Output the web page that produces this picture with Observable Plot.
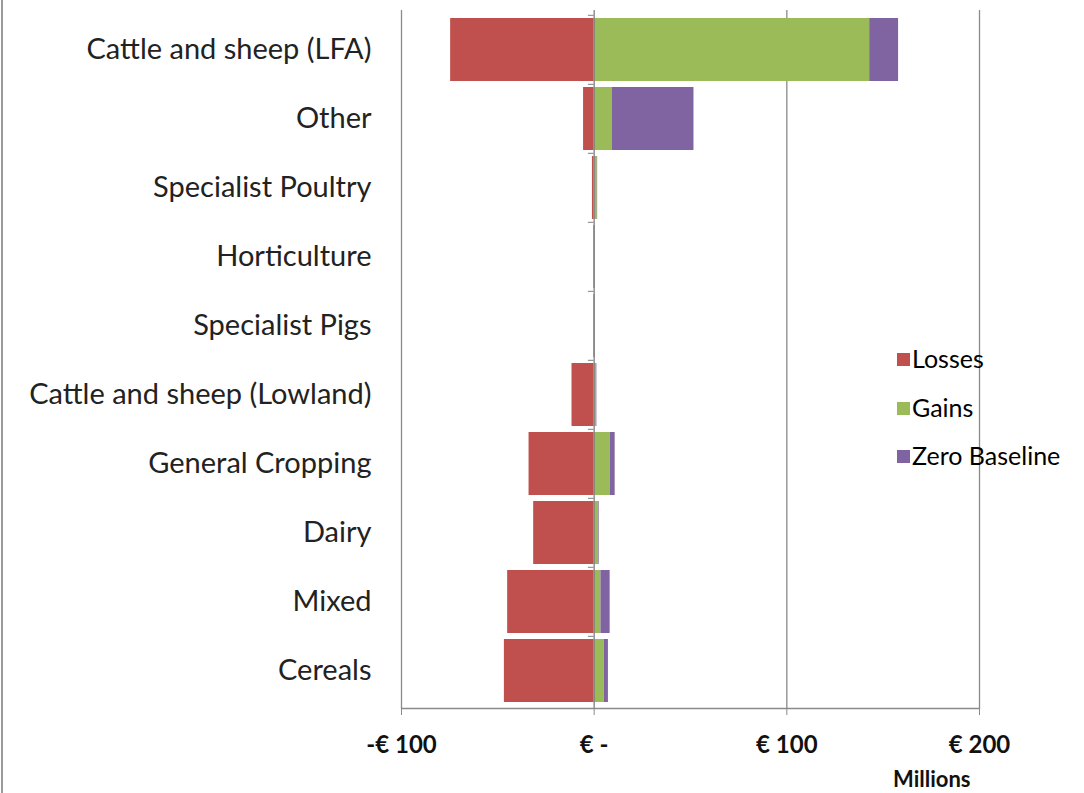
<!DOCTYPE html>
<html>
<head>
<meta charset="utf-8">
<script src="https://cdn.jsdelivr.net/npm/d3@7"></script>
<script src="https://cdn.jsdelivr.net/npm/@observablehq/plot@0.6"></script>
<style>
  html, body { margin: 0; padding: 0; background: #fff; }
  #wrap { position: relative; width: 1084px; height: 793px; overflow: hidden; }
  #wrap::before { content: ""; position: absolute; left: 1px; top: 0; width: 2px; height: 793px; background: #9a9a9a; }
  #legend { position: absolute; left: 897px; top: 343px; font-family: Lato, sans-serif; font-size: 25px; color: #000; }
  #legend .item { display: flex; align-items: center; height: 30px; margin-bottom: 18.5px; }
  #legend .sw { width: 13px; height: 13px; margin-right: 2px; margin-top: 3px; }
</style>
</head>
<body>
<div id="wrap"><div id="legend"></div></div>
<script>
const categories = ["Cattle and sheep (LFA)", "Other", "Specialist Poultry", "Horticulture", "Specialist Pigs",
  "Cattle and sheep (Lowland)", "General Cropping", "Dairy", "Mixed", "Cereals"];
const seriesNames = ["Losses", "Gains", "Zero Baseline"];
const seriesColors = ["#C0504D", "#9BBB59", "#8064A2"];
const losses = [-74.5, -5.5, -0.9, -0.3, -0.3, -11.5, -33.8, -31.4, -44.9, -46.6];
const gains = [143.0, 9.3, 1.6, 0.4, 0.4, 1.2, 8.3, 2.4, 3.5, 5.2];
const zeroBaseline = [15.0, 42.5, 0.2, 0.2, 0.2, 0.2, 2.6, 0.3, 4.8, 2.2];
const xTicks = [-100, 0, 100, 200];
const xTickLabels = ["-€ 100", "€ -", "€ 100", "€ 200"];
const gridValues = [-100, 100, 200];

const seriesValues = [losses, gains, zeroBaseline];
const data = [];
categories.forEach((c, i) => {
  seriesNames.forEach((s, j) => data.push({category: c, series: s, value: seriesValues[j][i]}));
});

const chart = Plot.plot({
  width: 1084,
  height: 793,
  marginLeft: 401,
  marginRight: 105,
  marginTop: 10,
  marginBottom: 85,
  style: {fontFamily: "Lato, sans-serif", background: "transparent"},
  x: {domain: [-100, 200], ticks: xTicks, tickFormat: d => xTickLabels[xTicks.indexOf(d)]},
  y: {domain: categories, range: [12, 708], paddingInner: 0.09, paddingOuter: 0.06},
  color: {domain: seriesNames, range: seriesColors},
  marks: [
    Plot.ruleX(gridValues, {stroke: "#8a8a8a", strokeWidth: 1.3}),
    Plot.barX(data, {x: "value", y: "category", fill: "series", order: seriesNames}),
    Plot.ruleX([0], {stroke: "#808080", strokeWidth: 1.3}),
    Plot.ruleY(categories, {y: d => d, x1: -3, x2: 0, dy: -34.7, stroke: "#808080"}),
    Plot.frame({anchor: "bottom", stroke: "#8a8a8a", strokeWidth: 1.3}),
    Plot.axisX({anchor: "bottom", ticks: xTicks, tickFormat: d => xTickLabels[xTicks.indexOf(d)],
      tickSize: 7, tickPadding: 20, fontSize: 24, fontWeight: "bold", label: null, stroke: "#8a8a8a", fill: "#111"}),
    Plot.axisY({anchor: "left", tickSize: 0, tickPadding: 30, fontSize: 29, label: null, fill: "#222"}),
    Plot.text(["Millions"], {frameAnchor: "bottom-right", dx: -9, dy: 71, textAnchor: "end", lineAnchor: "middle",
      fontSize: 22, fontWeight: "bold", fill: "#111"})
  ]
});
document.getElementById("wrap").prepend(chart);

const legend = document.getElementById("legend");
seriesNames.forEach((s, i) => {
  const item = document.createElement("div");
  item.className = "item";
  const sw = document.createElement("span");
  sw.className = "sw";
  sw.style.background = seriesColors[i];
  const t = document.createElement("span");
  t.textContent = s;
  item.append(sw, t);
  legend.append(item);
});
</script>
</body>
</html>
